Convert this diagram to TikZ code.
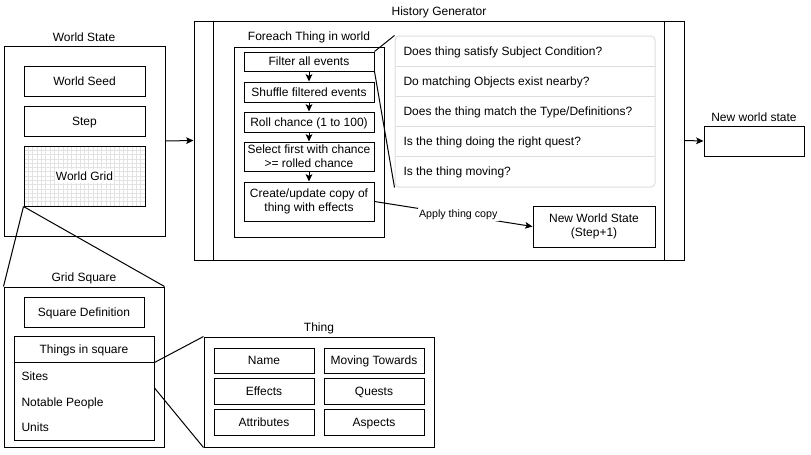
\documentclass[tikz,border=0pt]{standalone}
\usepackage{fontspec}
\setmainfont{Liberation Sans}
\usetikzlibrary{fit,arrows.meta}

\definecolor{listgray}{HTML}{DDDDDD}
\definecolor{gridgray}{HTML}{E2E2E2}

\tikzset{
    box/.style={draw, inner sep=0pt},
    every label/.style={align=center, inner sep=0pt, text height=7.3pt, text depth=1pt},
    twolines/.style={text height={}, text depth={}},
    title/.style={inner sep=0pt, text height=7.3pt, text depth=1pt},
    item/.style={anchor=west, inner sep=0pt, text height=7.3pt, text depth=1pt},
    arrow/.style={-{Stealth[length=5.5pt, width=5pt, inset=1.2pt]}},
    gridline/.style={draw=gridgray, line width=0.5pt}
}

\begin{document}
\begin{tikzpicture}[x=0.75pt, y=-0.75pt, line width=0.75pt,
    font=\fontsize{9}{10.5}\selectfont]
    \useasboundingbox (0,0) rectangle (811,454);

    % World state
    \node[title] (wstitle) at (84,37) {World State};
    \node[box, fit={(4,46) (165,236)}] (ws) {};
    \node[box, fit={(24,66) (145,96)}, label=center:World Seed] (seed) {};
    \node[box, fit={(24,106) (145,136)}, label=center:Step] (step) {};
    \begin{scope}
        \clip (24,146) rectangle (145,206);
        \foreach \i in {1,...,28}
            \draw[gridline] ({24+4.32*\i},146) -- ++(0,60);
        \foreach \j in {1,...,14}
            \draw[gridline] (24,{146+4.29*\j}) -- ++(121,0);
    \end{scope}
    \node[box, fit={(24,146) (145,206)}] (grid) {};
    \node[title, fill=white, inner sep=1pt] (gridlabel) at (grid.center) {World Grid};

    % History generator
    \node[title] (hgtitle) at (439,11) {History Generator};
    \node[box, fit={(194,21) (684,260)}] (hg) {};
    \draw ([xshift=15pt]hg.north west) -- ([xshift=15pt]hg.south west);
    \draw ([xshift=-15pt]hg.north east) -- ([xshift=-15pt]hg.south east);

    % Foreach loop
    \node[title] (fetitle) at (309,36) {Foreach Thing in world};
    \node[box, fit={(234,47) (384,237)}] (foreach) {};
    \node[box, fit={(244,52) (374,71)}, label=center:Filter all events] (filter) {};
    \node[box, fit={(244,82) (374,102)}, label=center:Shuffle filtered events] (shuffle) {};
    \node[box, fit={(244,112) (374,132)}, label=center:Roll chance (1 to 100)] (roll) {};
    \node[box, fit={(244,142) (374,171)},
        label={[twolines]center:Select first with chance\\>= rolled chance}] (select) {};
    \node[box, fit={(244,182) (374,221)},
        label={[twolines]center:Create/update copy of\\thing with effects}] (create) {};
    \draw[arrow] (filter) -- (shuffle);
    \draw[arrow] (shuffle) -- (roll);
    \draw[arrow] (roll) -- (select);
    \draw[arrow] (select) -- (create);

    % Filter checks
    \node[draw=listgray, rounded corners=3pt, inner sep=0pt, fit={(395,36) (655,187)}] (checks) {};
    \foreach \y in {66,96,126,156}
        \draw[listgray] (395,\y) -- (655,\y);
    \node[item] (q1) at (403,51) {Does thing satisfy Subject Condition?};
    \node[item] (q2) at (403,81) {Do matching Objects exist nearby?};
    \node[item] (q3) at (403,111) {Does the thing match the Type/Definitions?};
    \node[item] (q4) at (403,141) {Is the thing doing the right quest?};
    \node[item] (q5) at (403,171) {Is the thing moving?};
    \draw (filter.north east) -- (checks.north west);
    \draw (filter.south east) -- (checks.south west);

    % Step result
    \node[box, fit={(533,206) (655,247)},
        label={[twolines]center:New World State\\(Step+1)}] (nws) {};
    \draw[arrow] (create.east) -- node[pos=0.53, fill=white, inner sep=1pt,
        font=\fontsize{8}{9}\selectfont] (applylabel) {Apply thing copy} (nws.west);

    % New world state
    \node[title] (nwtitle) at (754,117) {New world state};
    \node[box, fit={(704,126) (804,156)}] (nw) {};
    \draw[arrow] (ws.east) -- (hg.west);
    \draw[arrow] (hg.east) -- (nw.west);

    % Grid square
    \node[title] (gstitle) at (84,277) {Grid Square};
    \node[box, fit={(4,287) (164,447)}] (gs) {};
    \node[box, fit={(24,297) (144,327)}, label=center:Square Definition] (sqdef) {};
    \node[box, fit={(14,336) (154,440)}] (tis) {};
    \node[box, fit={(14,336) (154,362)}, label=center:Things in square] (tishead) {};
    \node[item] (sites) at (21,376) {Sites};
    \node[item] (people) at (21,402) {Notable People};
    \node[item] (units) at (21,427) {Units};
    \draw (grid.south west) -- (gs.north west);
    \draw (grid.south west) -- (gs.north east);

    % Thing
    \node[title] (thtitle) at (319,327) {Thing};
    \node[box, fit={(204,337) (434,447)}] (thing) {};
    \node[box, fit={(214,348) (314,373)}, label=center:Name] (name) {};
    \node[box, fit={(324,348) (424,373)}, label=center:Moving Towards] (moving) {};
    \node[box, fit={(214,378) (314,404)}, label=center:Effects] (effects) {};
    \node[box, fit={(324,378) (424,404)}, label=center:Quests] (quests) {};
    \node[box, fit={(214,409) (314,435)}, label=center:Attributes] (attributes) {};
    \node[box, fit={(324,409) (424,435)}, label=center:Aspects] (aspects) {};
    \draw (tishead.south east) -- (thing.north west);
    \draw (tis.east) -- (thing.south west);
\end{tikzpicture}
\end{document}
